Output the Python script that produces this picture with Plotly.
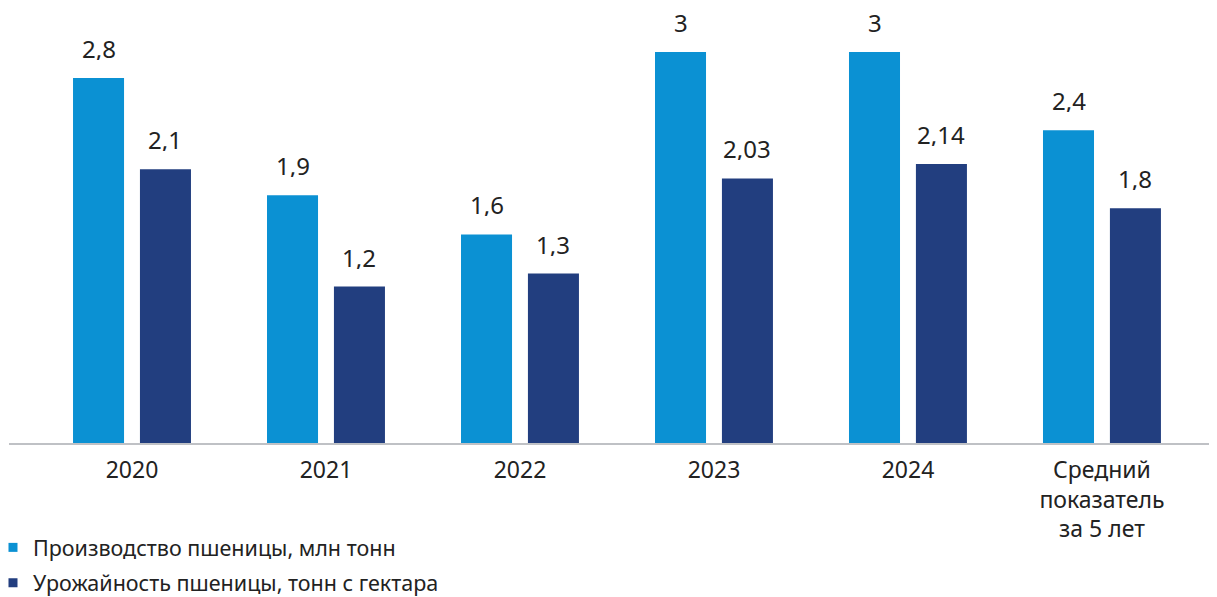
import plotly.graph_objects as go

categories = ["2020", "2021", "2022", "2023", "2024", "Средний<br>показатель<br>за 5 лет"]
production = [2.8, 1.9, 1.6, 3.0, 3.0, 2.4]
production_labels = ["2,8", "1,9", "1,6", "3", "3", "2,4"]
yield_vals = [2.1, 1.2, 1.3, 2.03, 2.14, 1.8]
yield_labels = ["2,1", "1,2", "1,3", "2,03", "2,14", "1,8"]
series_names = ["Производство пшеницы, млн тонн", "Урожайность пшеницы, тонн с гектара"]

LIGHT = "#0b91d3"
DARK = "#223e7f"
TXT = "#222222"
FONT = "Noto Sans"

x_idx = list(range(len(categories)))
W = 0.263
OFF1 = -0.304
OFF2 = 0.041

fig = go.Figure()
fig.add_trace(go.Bar(x=x_idx, y=production, width=W, offset=OFF1,
                     marker=dict(color=LIGHT, line=dict(width=0)), showlegend=False, hoverinfo="skip"))
fig.add_trace(go.Bar(x=x_idx, y=yield_vals, width=W, offset=OFF2,
                     marker=dict(color=DARK, line=dict(width=0)), showlegend=False, hoverinfo="skip"))

# legend entries
fig.add_trace(go.Scatter(x=[None], y=[None], mode="markers", name=series_names[0],
                         marker=dict(symbol="square", size=9, color=LIGHT), legend="legend"))
fig.add_trace(go.Scatter(x=[None], y=[None], mode="markers", name=series_names[1],
                         marker=dict(symbol="square", size=9, color=DARK), legend="legend2"))

annotations = []
for i in x_idx:
    annotations.append(dict(x=i + OFF1 + W / 2, y=production[i], text=production_labels[i],
                            showarrow=False, yanchor="bottom", yshift=16, height=24, valign="middle",
                            font=dict(size=24, color=TXT, family=FONT)))
    annotations.append(dict(x=i + OFF2 + W / 2, y=yield_vals[i], text=yield_labels[i],
                            showarrow=False, yanchor="bottom", yshift=16, height=24, valign="middle",
                            font=dict(size=24, color=TXT, family=FONT)))

fig.update_layout(
    width=1209, height=589,
    margin=dict(l=1, r=0, t=0, b=153.5, autoexpand=False),
    paper_bgcolor="white", plot_bgcolor="white",
    barmode="overlay",
    font=dict(family=FONT, color=TXT, size=21),
    annotations=annotations,
    xaxis=dict(range=[-0.634, 5.593], tickmode="array", tickvals=x_idx, ticktext=categories,
               showgrid=False, zeroline=False, showline=True, linecolor="#bfc1c5", linewidth=2,
               ticks="", ticklabelstandoff=5, automargin=False,
               tickfont=dict(size=23, color=TXT, family=FONT), fixedrange=True),
    yaxis=dict(range=[0, 3.337], visible=False, showgrid=False, zeroline=False, fixedrange=True),
    legend=dict(x=-0.01325, y=-0.240, xanchor="left", yanchor="middle", orientation="v",
                font=dict(size=21.5, color=TXT, family=FONT), bgcolor="rgba(0,0,0,0)",
                itemwidth=30),
    legend2=dict(x=-0.01325, y=-0.3215, xanchor="left", yanchor="middle", orientation="v",
                 font=dict(size=21.5, color=TXT, family=FONT), bgcolor="rgba(0,0,0,0)",
                 itemwidth=30),
)

fig.write_html("out.html")
